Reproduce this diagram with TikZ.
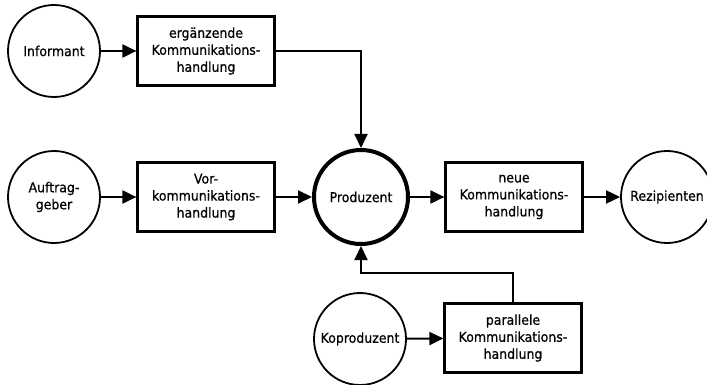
\documentclass[tikz,border=0pt]{standalone}
\usepackage{fontspec}
\setmainfont{DejaVu Sans}[FakeBold=0.6,FakeStretch=0.92]
\usetikzlibrary{arrows.meta}
\begin{document}
\begin{tikzpicture}[x=1pt,y=-1pt,
  actor/.style={circle,draw,line width=1.8pt,minimum size=92pt,inner sep=0pt,
    align=center,font=\fontsize{13.6}{17}\selectfont},
  mainactor/.style={actor,line width=4pt,minimum size=94pt},
  action/.style={rectangle,draw,line width=2.2pt,minimum width=137pt,minimum height=69pt,
    inner sep=0pt,align=center,font=\fontsize{13.6}{17}\selectfont},
  flow/.style={line width=2pt,-{Triangle[length=14pt,width=13pt]}}]
\useasboundingbox (0,0) rectangle (707,385);
% actors
\node[actor] (inf) at (54,51) {Informant};
\node[actor] (auf) at (54,197) {Auftrag-\\geber};
\node[mainactor] (pro) at (361,197) {Produzent};
\node[actor] (rez) at (667,197) {Rezipienten};
\node[actor] (kop) at (360,339) {Koproduzent};
% communicative actions
\node[action] (erg) at (206,51) {ergänzende\\Kommunikations-\\handlung};
\node[action] (vor) at (206,197) {Vor-\\kommunikations-\\handlung};
\node[action] (neu) at (514,197) {neue\\Kommunikations-\\handlung};
\node[action] (par) at (513,338) {parallele\\Kommunikations-\\handlung};
% connectors
\coordinate (c1) at (pro.north |- erg.east);
\coordinate (c2) at (par.north |- 0,273);
\coordinate (c3) at (pro.south |- 0,273);
\draw[flow] (inf) -- (erg);
\draw[flow] (erg.east) -- (c1) -- (pro.north);
\draw[flow] (auf) -- (vor);
\draw[flow] (vor) -- (pro);
\draw[flow] (pro) -- (neu);
\draw[flow] (neu) -- (rez);
\draw[flow] (kop) -- (par);
\draw[flow] (par.north) -- (c2) -- (c3) -- (pro.south);
\end{tikzpicture}
\end{document}
